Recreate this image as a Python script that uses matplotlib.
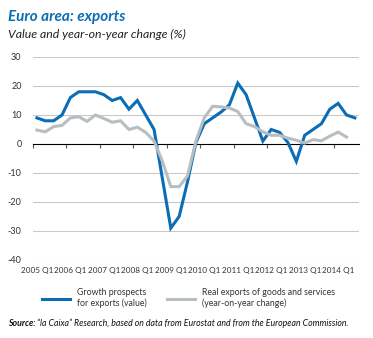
import matplotlib
matplotlib.use("Agg")
import matplotlib.pyplot as plt

plt.rcParams["font.family"] = ["Lato", "DejaVu Sans"]

# quarterly data, 2005 Q1 onwards
growth_prospects = [9, 8, 8, 10, 16, 18, 18, 18, 17, 15, 16, 12, 15, 10, 5, -12,
                    -29, -25, -13, 0.5, 7, 9, 11, 13.5, 21, 17, 9, 1, 5, 4, 0.5, -6,
                    3, 5, 7, 12, 14, 10, 9]
real_exports = [4.8, 4.2, 6, 6.4, 9, 9.4, 7.8, 10, 8.8, 7.5, 8, 5, 5.8, 4, 1, -6,
                -14.7, -14.7, -11, 1, 9, 13, 12.8, 12.4, 11.2, 7, 6, 4.2, 3, 3, 2, 1.3,
                0.3, 1.5, 1.1, 2.7, 4.1, 2.4]
years = list(range(2005, 2015))
tick_labels = [f"{y} Q1" for y in years]
y_ticks = [30, 20, 10, 0, -10, -20, -30, -40]

BLUE = "#0a6db5"
GREY = "#b7bec1"
TEXT = "#333333"

fig = plt.figure(figsize=(3.73, 3.38), dpi=100)
ax = fig.add_axes([0.0877, 0.2308, 0.875, 0.6006])

n = len(growth_prospects)
ax.plot(range(n), growth_prospects, color=BLUE, lw=2.2, solid_joinstyle="miter",
        label="Growth prospects\nfor exports (value)")
ax.plot(range(len(real_exports)), real_exports, color=GREY, lw=2.2,
        solid_joinstyle="miter",
        label="Real exports of goods and services\n(year-on-year change)")

ax.set_xlim(-0.5, n - 0.5)
ax.set_ylim(-40, 30)
ax.set_yticks(y_ticks)
ax.set_yticklabels([str(v) for v in y_ticks])
ax.set_xticks([4 * k for k in range(len(years))])
ax.set_xticklabels(tick_labels)
ax.tick_params(axis="both", length=0, colors=TEXT)
ax.tick_params(axis="x", pad=5, labelsize=5.9)
ax.tick_params(axis="y", pad=8, labelsize=6.5)

for s in ax.spines.values():
    s.set_visible(False)
for v in y_ticks:
    if v != 0:
        ax.axhline(v, color="#c9c9c9", lw=0.8, zorder=0)

# zero line with small tick marks between years
zero_ax = ax.secondary_xaxis(40 / 70)
zero_ax.spines["bottom"].set_color("#555555")
zero_ax.spines["bottom"].set_linewidth(1.0)
zero_ax.set_xticks([4 * k - 0.5 for k in range(len(years))])
zero_ax.set_xticklabels([])
zero_ax.tick_params(direction="in", length=3, width=0.8, color="#555555")

fig.text(0.021, 0.938, "Euro area: exports", color=BLUE, fontsize=11,
         fontweight="bold", style="italic")
fig.text(0.021, 0.887, "Value and year-on-year change (%)", color="#222222",
         fontsize=8.8, style="italic")

fig.legend(loc="center", bbox_to_anchor=(0.505, 0.118), ncol=2, frameon=False,
           fontsize=6.3, handlelength=3.2, columnspacing=2.3, handletextpad=0.8,
           labelcolor=TEXT)

src = fig.text(0.021, 0.035, "Source:", fontsize=6.3, fontweight="bold",
               style="italic", color="#111111")
fig.canvas.draw()
bb = src.get_window_extent().transformed(fig.transFigure.inverted())
fig.text(bb.x1 + 0.004, 0.035,
         "\u201cla Caixa\u201d Research, based on data from Eurostat and from the European Commission.",
         fontsize=6.3, style="italic", color="#111111")

fig.savefig("out.png", dpi=100)
